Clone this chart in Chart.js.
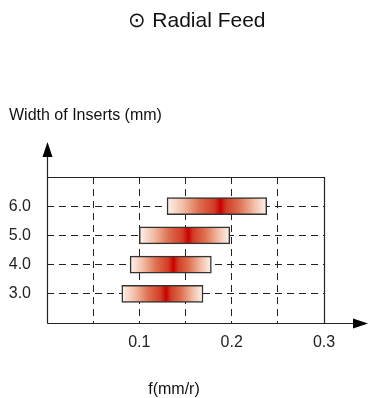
<!DOCTYPE html>
<html>
<head>
<meta charset="utf-8">
<script src="https://cdn.jsdelivr.net/npm/chart.js@4"></script>
<style>
  html, body { margin: 0; padding: 0; background: #fff; }
  #wrap { width: 368px; height: 398px; }
</style>
</head>
<body>
<div id="wrap"><canvas id="chart" width="368" height="398"></canvas></div>
<script>
// insert widths (mm) and feed ranges (mm/r)
const widths = [3.0, 4.0, 5.0, 6.0];
const feedMin = [0.081, 0.09, 0.10, 0.13];
const feedMax = [0.169, 0.178, 0.198, 0.238];
const feedPeak = [0.129, 0.137, 0.153, 0.188];
const xTicks = [0.1, 0.2, 0.3];

const FONT = "'Liberation Sans', Arial, sans-serif";
const INK = "#222";

// gradient light -> red at the peak -> light
function barFill(ctx) {
  const chart = ctx.chart;
  if (!chart.chartArea || ctx.dataIndex === undefined) return "#d33";
  const xs = chart.scales.x;
  const i = ctx.dataIndex;
  const x0 = xs.getPixelForValue(feedMin[i]);
  const x1 = xs.getPixelForValue(feedMax[i]);
  const p = Math.min(0.98, Math.max(0.02, (feedPeak[i] - feedMin[i]) / (feedMax[i] - feedMin[i])));
  const q = 1 - p;
  const g = chart.ctx.createLinearGradient(x0, 0, x1, 0);
  g.addColorStop(0, "#fdf3ee");
  g.addColorStop(p * 0.3, "#f2bca5");
  g.addColorStop(p * 0.6, "#de6f50");
  g.addColorStop(p * 0.88, "#d23c25");
  g.addColorStop(p, "#c80000");
  g.addColorStop(p + q * 0.12, "#d23c25");
  g.addColorStop(p + q * 0.4, "#de6f50");
  g.addColorStop(p + q * 0.72, "#f2bca5");
  g.addColorStop(1, "#fdf3ee");
  return g;
}

// frame, axis arrows and free text labels
const decor = {
  id: "decor",
  afterDraw(chart) {
    const { ctx, chartArea: a } = chart;
    const L = Math.round(a.left) + 0.5, R = Math.round(a.right) + 0.5;
    const T = Math.round(a.top) + 0.5, B = Math.round(a.bottom) + 0.5;
    ctx.save();
    ctx.strokeStyle = INK;
    ctx.fillStyle = "#000";
    ctx.lineWidth = 1.2;
    ctx.setLineDash([]);
    ctx.beginPath();
    ctx.moveTo(L, T); ctx.lineTo(R, T); ctx.lineTo(R, B);
    ctx.moveTo(L, B); ctx.lineTo(353, B);
    ctx.moveTo(L, B); ctx.lineTo(L, 156);
    ctx.stroke();
    ctx.beginPath();
    ctx.moveTo(L, 142); ctx.lineTo(L - 5, 157); ctx.lineTo(L + 5, 157); ctx.closePath();
    ctx.fill();
    ctx.beginPath();
    ctx.moveTo(368, B); ctx.lineTo(353, B - 5); ctx.lineTo(353, B + 5); ctx.closePath();
    ctx.fill();

    ctx.fillStyle = "#111";
    ctx.textBaseline = "alphabetic";
    ctx.font = "21px " + FONT;
    ctx.textAlign = "center";
    ctx.fillText("\u2299 Radial Feed", 197, 27);
    ctx.font = "16px " + FONT;
    ctx.textAlign = "left";
    ctx.fillText("Width of Inserts (mm)", 9, 120);
    ctx.textAlign = "center";
    ctx.fillText("f(mm/r)", 174, 394);
    ctx.restore();
  }
};

new Chart(document.getElementById("chart"), {
  type: "bar",
  data: {
    datasets: [{
      data: widths.map((w, i) => ({ x: [feedMin[i], feedMax[i]], y: w })),
      backgroundColor: barFill,
      borderColor: "#333",
      borderWidth: 1.5,
      borderSkipped: false,
      barThickness: 17
    }]
  },
  options: {
    indexAxis: "y",
    responsive: false,
    animation: false,
    events: [],
    layout: { padding: { top: 177, right: 44, left: 0, bottom: 0 } },
    plugins: { legend: { display: false }, title: { display: false }, tooltip: { enabled: false } },
    scales: {
      x: {
        type: "linear",
        min: 0,
        max: 0.3,
        afterFit: (s) => { s.height = 75; },
        ticks: {
          stepSize: 0.05,
          padding: 10,
          color: INK,
          font: { family: FONT, size: 16 },
          maxRotation: 0,
          autoSkip: false,
          callback: (v) => {
            const t = xTicks.find((k) => Math.abs(k - v) < 1e-6);
            return t !== undefined ? t.toFixed(1) : "";
          }
        },
        grid: {
          drawTicks: false,
          lineWidth: 1,
          color: (c) => {
            const v = c.tick ? c.tick.value : 0;
            return v > 0.01 && v < 0.29 ? INK : "rgba(0,0,0,0)";
          }
        },
        border: { display: false, dash: [7, 5] }
      },
      y: {
        type: "linear",
        min: 2,
        max: 7,
        offset: false,
        afterFit: (s) => { s.width = 47; },
        ticks: {
          stepSize: 1,
          padding: 16,
          color: INK,
          font: { family: FONT, size: 16 },
          callback: (v) => (widths.includes(v) ? v.toFixed(1) : "")
        },
        grid: {
          offset: false,
          drawTicks: false,
          lineWidth: 1,
          color: (c) => {
            const v = c.tick ? c.tick.value : 0;
            return widths.includes(v) ? INK : "rgba(0,0,0,0)";
          }
        },
        border: { display: false, dash: [7, 5] }
      }
    }
  },
  plugins: [decor]
});
</script>
</body>
</html>
